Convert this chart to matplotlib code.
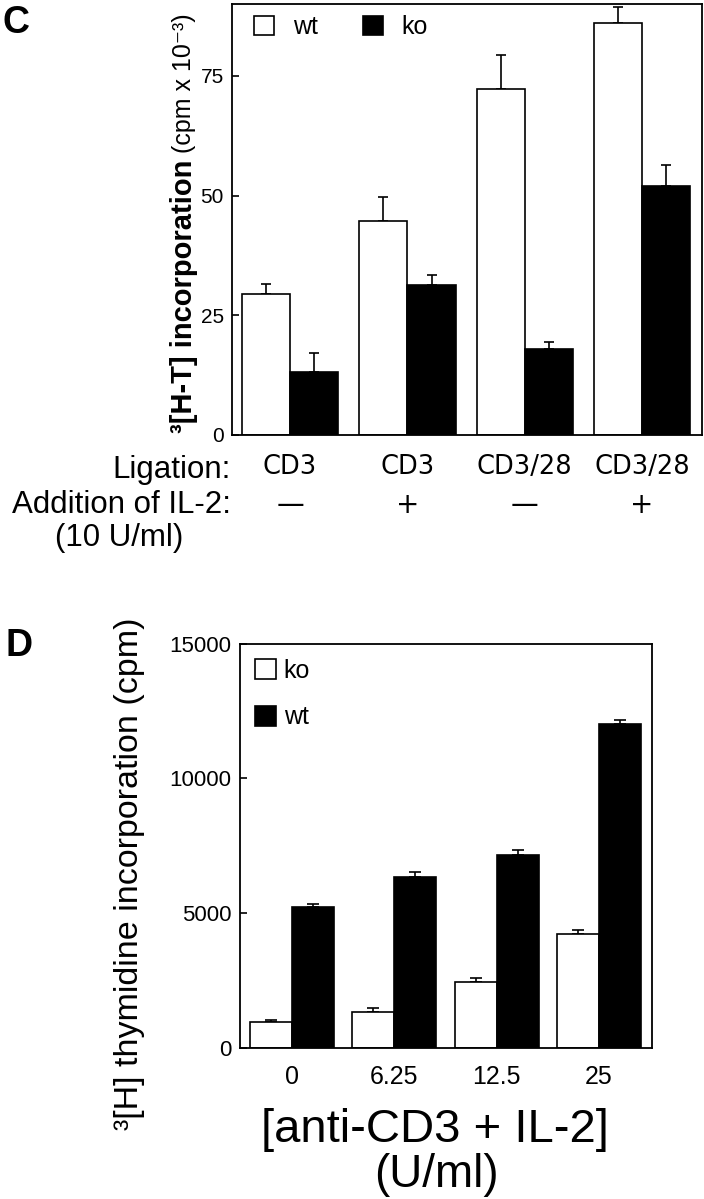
"""Two-panel proliferation figure (C: CD3 / CD3+CD28 ligation, D: anti-CD3 + IL-2 dose)."""

import matplotlib
matplotlib.use("Agg")  # Non-interactive backend
import matplotlib.pyplot as plt
import matplotlib.transforms as mtransforms
from matplotlib.patches import Patch
import numpy as np

# Panel C data
c_ligation = ["CD3", "CD3", "CD3/28", "CD3/28"]
c_il2 = ["\u2014", "+", "\u2014", "+"]
c_wt = [29.5, 44.7, 72.3, 86.0]
c_wt_err = [2.0, 5.1, 7.1, 3.4]
c_ko = [13.1, 31.4, 17.9, 52.0]
c_ko_err = [4.1, 2.0, 1.5, 4.3]
c_yticks = [0, 25, 50, 75]

# Panel D data
d_dose = ["0", "6.25", "12.5", "25"]
d_ko = [950, 1320, 2430, 4220]
d_ko_err = [80, 150, 150, 160]
d_wt = [5220, 6340, 7160, 12020]
d_wt_err = [130, 200, 190, 150]
d_yticks = [0, 5000, 10000, 15000]

W, H = 704, 1199
BAR_W = 0.41
SANS = ["Liberation Sans", "DejaVu Sans"]

plt.rcParams["font.family"] = SANS


def fx(px):
    return px / W


def fy(py):
    return 1 - py / H


def _draw_pair(ax, x, left, left_err, left_color, right, right_err, right_color, capsize):
    """Draw two bars per group with upward-only error bars."""
    for offset, vals, errs, color in ((-BAR_W / 2, left, left_err, left_color),
                                      (BAR_W / 2, right, right_err, right_color)):
        ax.bar(x + offset, vals, BAR_W, color=color, edgecolor="black", linewidth=1.2, zorder=2)
        ax.errorbar(x + offset, vals, yerr=[np.zeros(len(vals)), errs], fmt="none",
                    ecolor="black", elinewidth=1.2, capsize=capsize, capthick=1.2, zorder=1)


def _frame(ax):
    for sp in ax.spines.values():
        sp.set_linewidth(1.3)


fig = plt.figure(figsize=(W / 100, H / 100), dpi=100)

# ---- Panel C ----
axc = fig.add_axes([fx(232), fy(435), (702 - 232) / W, (435 - 4) / H])
xc = np.arange(len(c_ligation))
_draw_pair(axc, xc, c_wt, c_wt_err, "white", c_ko, c_ko_err, "black", capsize=3.5)
axc.set_xlim(-0.495, 3.51)
axc.set_ylim(0, 90)
axc.set_yticks(c_yticks)
axc.set_yticklabels([str(v) for v in c_yticks], fontsize=15)
axc.tick_params(axis="y", direction="in", length=5, width=1.2, pad=6)
axc.set_xticks(xc)
axc.set_xticklabels(c_ligation, fontsize=18.5, family=["DejaVu Sans"])
axc.tick_params(axis="x", length=0, pad=14)
_frame(axc)

trans_c = mtransforms.blended_transform_factory(axc.transData, axc.transAxes)
for xi, sym in zip(xc, c_il2):
    axc.text(xi, -0.163, sym, transform=trans_c, ha="center", va="center",
             fontsize=20, family=["DejaVu Sans"])

axc.legend(handles=[Patch(facecolor="white", edgecolor="black", linewidth=1.2, label="wt"),
                    Patch(facecolor="black", edgecolor="black", linewidth=1.2, label="ko")],
           loc="center left", bbox_to_anchor=(0.047, 0.947), ncol=2, frameon=False,
           borderpad=0, borderaxespad=0, handlelength=0.8, handleheight=0.8,
           handletextpad=0.75, columnspacing=1.8, prop={"size": 18})

fig.text(fx(2), fy(5), "C", fontsize=27, fontweight="bold", ha="left", va="top")
fig.text(fx(184), fy(433), "\u00b3[H-T] incorporation", rotation=90, ha="center",
         va="bottom", fontsize=21, fontweight="bold")
fig.text(fx(184), fy(153), "(cpm x 10\u207b\u00b3)", rotation=90, ha="center",
         va="bottom", fontsize=18)
fig.text(fx(231), fy(470), "Ligation:", ha="right", va="center", fontsize=22.5)
fig.text(fx(231), fy(505), "Addition of IL-2:", ha="right", va="center", fontsize=22.5)
fig.text(fx(119), fy(538), "(10 U/ml)", ha="center", va="center", fontsize=22.5)

# ---- Panel D ----
axd = fig.add_axes([fx(240), fy(1048), (652 - 240) / W, (1048 - 643.5) / H])
xd = np.arange(len(d_dose))
_draw_pair(axd, xd, d_ko, d_ko_err, "white", d_wt, d_wt_err, "black", capsize=4)
axd.set_xlim(-0.507, 3.517)
axd.set_ylim(0, 15000)
axd.set_yticks(d_yticks)
axd.set_yticklabels([str(v) for v in d_yticks], fontsize=16)
axd.tick_params(axis="y", direction="in", length=5, width=1.2, pad=6)
axd.set_xticks(xd)
axd.set_xticklabels(d_dose, fontsize=18)
axd.tick_params(axis="x", length=0, pad=12)
_frame(axd)

axd.legend(handles=[Patch(facecolor="white", edgecolor="black", linewidth=1.2, label="ko"),
                    Patch(facecolor="black", edgecolor="black", linewidth=1.2, label="wt")],
           loc="upper left", bbox_to_anchor=(0.036, 0.962), frameon=False,
           borderpad=0, borderaxespad=0, handlelength=0.85, handleheight=0.85,
           handletextpad=0.3, labelspacing=0.9, prop={"size": 18})

fig.text(fx(5), fy(628), "D", fontsize=27, fontweight="bold", ha="left", va="top")
fig.text(fx(130), fy(874), "\u00b3[H] thymidine incorporation (cpm)", rotation=90,
         ha="center", va="center", fontsize=24.5)
fig.text(fx(435), fy(1130), "[anti-CD3 + IL-2]", ha="center", va="center", fontsize=34)
fig.text(fx(436), fy(1175), "(U/ml)", ha="center", va="center", fontsize=33)

fig.savefig("out.png", dpi=100)
plt.close(fig)
